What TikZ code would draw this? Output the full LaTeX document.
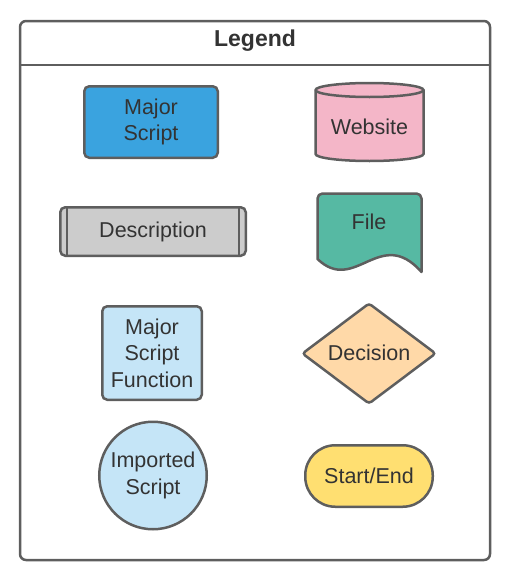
\documentclass[tikz,border=0pt]{standalone}
\usepackage{fontspec}
\setmainfont{Liberation Sans}
\definecolor{edge}{HTML}{5E5E5E}
\definecolor{txt}{HTML}{333333}
\definecolor{major}{HTML}{3AA3DF}
\definecolor{minor}{HTML}{C5E5F7}
\definecolor{descr}{HTML}{CCCCCC}
\definecolor{web}{HTML}{F4B6C8}
\definecolor{filec}{HTML}{56B9A3}
\definecolor{decide}{HTML}{FFD9A8}
\definecolor{term}{HTML}{FFDF71}
\begin{document}
\begin{tikzpicture}[x=1pt,y=-1pt,
    sym/.style={draw=edge, line width=2.5pt, text=txt, align=center, inner sep=0pt,
      font=\fontsize{21.5}{26.5}\selectfont},
    label/.style={text=txt, align=center, inner sep=0pt, font=\fontsize{21.5}{26.5}\selectfont}]
		\useasboundingbox (0,0) rectangle (510,581);

		% Frame
		\draw[edge, line width=2.5pt, rounded corners=6pt] (20,21) rectangle (490,560);
		\draw[edge, line width=2.5pt] (20,65) -- (490,65);
		\node[text=txt, font=\bfseries\fontsize{23}{28}\selectfont] (legend) at (255,41) {Legend};

		% Major script
		\node[sym, fill=major, rounded corners=5pt, minimum width=133.5pt, minimum height=71.5pt] (major) at (151,122) {Major\\Script};

		% Description
		\node[sym, fill=descr, rounded corners=5pt, minimum width=185.5pt, minimum height=48.5pt] (desc) at (153,231.5) {Description};
		\draw[edge, line width=2.5pt] ([xshift=8pt]desc.north west) -- ([xshift=8pt]desc.south west);
		\draw[edge, line width=2.5pt] ([xshift=-8pt]desc.north east) -- ([xshift=-8pt]desc.south east);

		% Website
		\draw[edge, fill=web, line width=2.5pt] (315.5,90) -- (315.5,154)
			arc[start angle=180, end angle=0, x radius=54, y radius=7]
			-- (423.5,90) arc[start angle=0, end angle=-180, x radius=54, y radius=7] -- cycle;
		\draw[edge, line width=2.5pt] (315.5,90) arc[start angle=180, end angle=0, x radius=54, y radius=7];
		\node[label] (website) at (369.5,127) {Website};

		% File
		\draw[edge, fill=filec, line width=2.5pt, line join=round] (421.5,272) [rounded corners=5pt] -- (421.5,193.5) -- (317.5,193.5) [sharp corners] -- (317.5,259)
			.. controls (355,295) and (380,225) .. (421.5,272) -- cycle;
		\node[label] (file) at (369,222) {File};

		% Major script function
		\node[sym, fill=minor, rounded corners=5pt, minimum width=99.5pt, minimum height=93.5pt] (func) at (152,353) {Major\\Script\\Function};

		% Decision
		\draw[edge, fill=decide, line width=2.5pt, rounded corners=3pt] (302.5,353.5) -- (369,303.5) -- (435.5,353.5) -- (369,403.5) -- cycle;
		\node[label] (decision) at (369,352.5) {Decision};

		% Imported script
		\node[sym, fill=minor, circle, minimum size=107.5pt] (imported) at (153,475.5) {Imported\\Script};

		% Start/End
		\node[sym, fill=term, rounded corners=30pt, minimum width=127.5pt, minimum height=61.5pt] (startend) at (369,476) {Start/End};
\end{tikzpicture}
\end{document}
